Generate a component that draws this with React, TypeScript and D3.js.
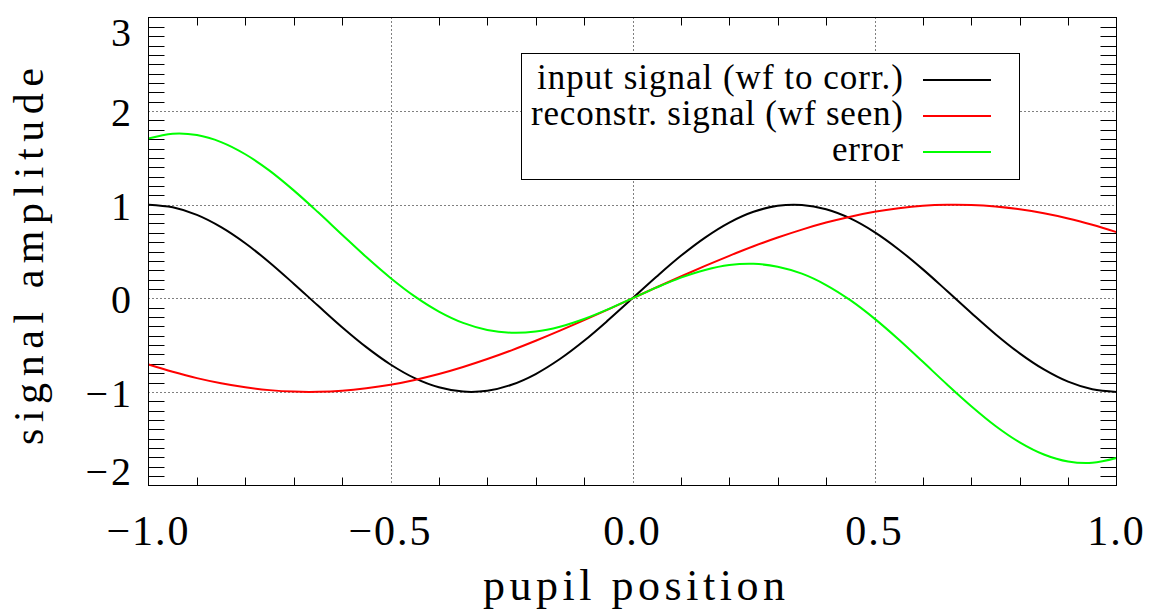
import React from "react";
import * as d3 from "d3";

const xValues = [
  -1.0, -0.95, -0.9, -0.85, -0.8, -0.75, -0.7, -0.65, -0.6, -0.55, -0.5, -0.45, -0.4, -0.35,
  -0.3, -0.25, -0.2, -0.15, -0.1, -0.05, 0.0, 0.05, 0.1, 0.15, 0.2, 0.25, 0.3, 0.35, 0.4,
  0.45, 0.5, 0.55, 0.6, 0.65, 0.7, 0.75, 0.8, 0.85, 0.9, 0.95, 1.0,
];

const inputSignal = [
  1.0, 0.972, 0.891, 0.76, 0.588, 0.383, 0.156, -0.078, -0.309, -0.522, -0.707, -0.853, -0.951,
  -0.997, -0.988, -0.924, -0.809, -0.649, -0.454, -0.233, 0.0, 0.233, 0.454, 0.649, 0.809,
  0.924, 0.988, 0.997, 0.951, 0.853, 0.707, 0.522, 0.309, 0.078, -0.156, -0.383, -0.588, -0.76,
  -0.891, -0.972, -1.0,
];

const reconSignal = [
  -0.707, -0.785, -0.853, -0.908, -0.951, -0.981, -0.997, -0.999, -0.988, -0.962, -0.924,
  -0.872, -0.809, -0.734, -0.649, -0.556, -0.454, -0.346, -0.233, -0.118, 0.0, 0.118, 0.233,
  0.346, 0.454, 0.556, 0.649, 0.734, 0.809, 0.872, 0.924, 0.962, 0.988, 0.999, 0.997, 0.981,
  0.951, 0.908, 0.853, 0.785, 0.707,
];

const errorSignal = [
  1.707, 1.758, 1.744, 1.669, 1.539, 1.364, 1.153, 0.921, 0.679, 0.44, 0.217, 0.02, -0.142,
  -0.263, -0.338, -0.368, -0.355, -0.303, -0.221, -0.116, 0.0, 0.116, 0.221, 0.303, 0.355,
  0.368, 0.338, 0.263, 0.142, -0.02, -0.217, -0.44, -0.679, -0.921, -1.153, -1.364, -1.539,
  -1.669, -1.744, -1.758, -1.707,
];

const seriesNames = ["input signal (wf to corr.)", "reconstr. signal (wf seen)", "error"];
const seriesColors = ["#000000", "#ff0000", "#00ff00"];
const seriesData = [inputSignal, reconSignal, errorSignal];

const xTickValues = [-1.0, -0.5, 0.0, 0.5, 1.0];
const xTickLabels = ["\u22121.0", "\u22120.5", "0.0", "0.5", "1.0"];
const yTickValues = [-2, -1, 0, 1, 2, 3];
const yTickLabels = ["\u22122", "\u22121", "0", "1", "2", "3"];

const W = 1156;
const H = 614;
const L = 148.5;
const R = 1116.5;
const T = 17.5;
const B = 485.5;
const FONT = "'Liberation Serif', 'Times New Roman', serif";

export default function App() {
  const x = d3.scaleLinear().domain([-1, 1]).range([L, R]);
  const y = d3.scaleLinear().domain([-2, 3]).range([B, T]);

  const line = d3
    .line<number>()
    .x((_, i) => x(xValues[i]))
    .y((d) => y(d))
    .curve(d3.curveCatmullRom);

  const isMult = (v: number, m: number) => Math.abs(v / m - Math.round(v / m)) < 1e-6;
  const xMinor = x.ticks(20).filter((v) => !isMult(v, 0.5));
  const yMinor = y.ticks(50).filter((v) => !isMult(v, 1));
  const xGrid = xTickValues.filter((v) => v > -1 && v < 1);
  const yGrid = yTickValues.filter((v) => v > -2 && v < 3);

  const legendWidths = [366, 372, 71];
  const legendRight = 903;
  const legendBase0 = 89;
  const legendStep = 36;

  return (
    <svg
      width={W}
      height={H}
      style={{ position: "absolute", left: 0, top: 0, background: "#fff", display: "block" }}
    >
      <rect x={0} y={0} width={W} height={H} fill="#fff" />
      {/* grid */}
      <g stroke="#000" strokeWidth={1} strokeDasharray="1,3">
        {xGrid.map((v) => (
          <line key={"gx" + v} x1={Math.round(x(v)) + 0.5} x2={Math.round(x(v)) + 0.5} y1={T} y2={B} />
        ))}
        {yGrid.map((v) => (
          <line key={"gy" + v} x1={L} x2={R} y1={Math.round(y(v)) + 0.5} y2={Math.round(y(v)) + 0.5} />
        ))}
      </g>
      {/* minor ticks */}
      <g stroke="#000" strokeWidth={1}>
        {xMinor.map((v) => {
          const px = Math.round(x(v)) + 0.5;
          return (
            <g key={"mx" + v}>
              <line x1={px} x2={px} y1={B} y2={B - 8} />
              <line x1={px} x2={px} y1={T} y2={T + 8} />
            </g>
          );
        })}
        {yMinor.map((v) => {
          const py = Math.round(y(v)) + 0.5;
          return (
            <g key={"my" + v}>
              <line x1={L} x2={L + 16} y1={py} y2={py} />
              <line x1={R} x2={R - 16} y1={py} y2={py} />
            </g>
          );
        })}
      </g>
      {/* curves */}
      {seriesData.map((d, i) => (
        <path key={"s" + i} d={line(d) || ""} fill="none" stroke={seriesColors[i]} strokeWidth={2} />
      ))}
      {/* frame */}
      <rect x={L} y={T} width={R - L} height={B - T} fill="none" stroke="#000" strokeWidth={1} />
      {/* x tick labels */}
      <g fontFamily={FONT} fontSize={42} fill="#000">
        {xTickValues.map((v, i) => (
          <text key={"xl" + v} x={x(v)} y={545} textAnchor="middle" letterSpacing={2}>
            {xTickLabels[i]}
          </text>
        ))}
      </g>
      {/* y tick labels */}
      <g fontFamily={FONT} fontSize={40} fill="#000">
        {yTickValues.map((v, i) => {
          const by = Math.min(Math.max(y(v) + 15, T + 28), B - 1);
          return (
            <text key={"yl" + v} x={134} y={by} textAnchor="end" letterSpacing={3}>
              {yTickLabels[i]}
            </text>
          );
        })}
      </g>
      {/* axis titles */}
      <text
        x={483}
        y={600}
        fontFamily={FONT}
        fontSize={44}
        textLength={302}
        lengthAdjust="spacing"
      >
        pupil position
      </text>
      <text
        transform={`translate(43, ${256.5 + 188.5}) rotate(-90)`}
        x={0}
        y={0}
        fontFamily={FONT}
        fontSize={42}
        textLength={377}
        lengthAdjust="spacing"
      >
        signal amplitude
      </text>
      {/* legend */}
      <rect x={521.5} y={53.5} width={498} height={126} fill="#fff" stroke="#000" strokeWidth={1} />
      {seriesNames.map((name, i) => {
        const base = legendBase0 + i * legendStep;
        return (
          <g key={"lg" + i}>
            <text
              x={legendRight - legendWidths[i]}
              y={base}
              fontFamily={FONT}
              fontSize={35}
              textLength={legendWidths[i]}
              lengthAdjust="spacing"
            >
              {name}
            </text>
            <line x1={923} x2={991} y1={base - 9} y2={base - 9} stroke={seriesColors[i]} strokeWidth={2} />
          </g>
        );
      })}
    </svg>
  );
}
